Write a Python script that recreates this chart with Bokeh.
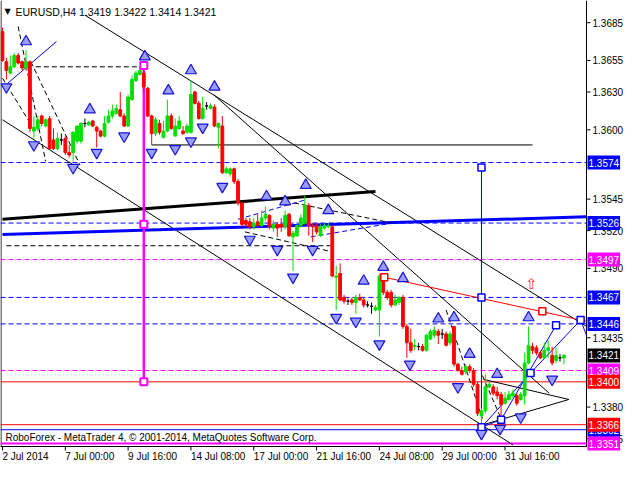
from bokeh.plotting import figure
from bokeh.models import Range1d, Label
from bokeh.core.properties import value
from bokeh.embed import file_html
from bokeh.resources import INLINE

# ---------------- data ----------------
opens = [1.3678,1.3654,1.3645,1.3650,1.3659,1.3654,1.3649,1.3654,1.3599,1.3601,
 1.3611,1.3603,1.3609,1.3592,1.3585,1.3592,1.3593,1.3582,1.3582,1.3591,
 1.3591,1.3605,1.3604,1.3607,1.3602,1.3599,1.3595,1.3606,1.3611,1.3613,
 1.3616,1.3611,1.3603,1.3624,1.3639,1.3644,1.3645,1.3633,1.3611,1.3597,
 1.3605,1.3594,1.3599,1.3611,1.3595,1.3601,1.3599,1.3598,1.3598,1.3630,
 1.3621,1.3609,1.3619,1.3617,1.3618,1.3602,1.3603,1.3566,1.3565,1.3569,
 1.3559,1.3542,1.3528,1.3527,1.3523,1.3527,1.3524,1.3530,1.3532,1.3522,
 1.3525,1.3525,1.3523,1.3533,1.3515,1.3516,1.3524,1.3526,1.3540,1.3524,
 1.3524,1.3516,1.3522,1.3523,1.3523,1.3483,1.3486,1.3467,1.3464,1.3465,
 1.3463,1.3467,1.3465,1.3461,1.3460,1.3457,1.3457,1.3483,1.3471,1.3471,
 1.3461,1.3463,1.3467,1.3444,1.3431,1.3428,1.3428,1.3428,1.3425,1.3434,
 1.3437,1.3440,1.3438,1.3438,1.3431,1.3444,1.3414,1.3409,1.3408,1.3412,
 1.3409,1.3398,1.3373,1.3377,1.3396,1.3396,1.3392,1.3390,1.3383,1.3386,
 1.3389,1.3389,1.3386,1.3389,1.3415,1.3428,1.3427,1.3423,1.3419,1.3425,
 1.3421,1.3417,1.3419,1.3419]
highs = [1.3681,1.3657,1.3659,1.3661,1.3661,1.3655,1.3663,1.3655,1.3611,1.3611,
 1.3612,1.3609,1.3611,1.3601,1.3598,1.3597,1.3595,1.3588,1.3599,1.3603,
 1.3606,1.3609,1.3607,1.3608,1.3603,1.3600,1.3611,1.3616,1.3620,1.3620,
 1.3630,1.3613,1.3628,1.3643,1.3647,1.3650,1.3652,1.3634,1.3612,1.3610,
 1.3608,1.3607,1.3624,1.3613,1.3609,1.3611,1.3603,1.3605,1.3639,1.3631,
 1.3623,1.3626,1.3622,1.3621,1.3620,1.3606,1.3611,1.3571,1.3570,1.3570,
 1.3561,1.3543,1.3530,1.3530,1.3530,1.3533,1.3536,1.3539,1.3533,1.3528,
 1.3527,1.3530,1.3536,1.3534,1.3520,1.3525,1.3533,1.3548,1.3542,1.3526,
 1.3526,1.3525,1.3526,1.3526,1.3524,1.3492,1.3494,1.3469,1.3466,1.3467,
 1.3469,1.3470,1.3467,1.3464,1.3463,1.3461,1.3486,1.3486,1.3473,1.3473,
 1.3469,1.3468,1.3469,1.3446,1.3442,1.3434,1.3431,1.3430,1.3438,1.3442,
 1.3444,1.3442,1.3442,1.3440,1.3440,1.3444,1.3415,1.3412,1.3414,1.3414,
 1.3411,1.3400,1.3379,1.3406,1.3400,1.3398,1.3396,1.3392,1.3392,1.3393,
 1.3394,1.3391,1.3392,1.3423,1.3444,1.3431,1.3429,1.3425,1.3431,1.3433,
 1.3428,1.3427,1.3422,1.3422]
lows = [1.3654,1.3640,1.3644,1.3649,1.3652,1.3647,1.3647,1.3598,1.3593,1.3599,
 1.3603,1.3602,1.3584,1.3584,1.3584,1.3588,1.3580,1.3578,1.3575,1.3589,
 1.3589,1.3602,1.3603,1.3602,1.3586,1.3594,1.3594,1.3605,1.3609,1.3612,
 1.3610,1.3602,1.3602,1.3623,1.3638,1.3643,1.3630,1.3610,1.3588,1.3595,
 1.3596,1.3593,1.3598,1.3600,1.3595,1.3600,1.3596,1.3597,1.3597,1.3620,
 1.3608,1.3608,1.3616,1.3616,1.3602,1.3585,1.3565,1.3565,1.3563,1.3557,
 1.3540,1.3523,1.3523,1.3521,1.3521,1.3522,1.3523,1.3528,1.3521,1.3519,
 1.3515,1.3519,1.3521,1.3515,1.3488,1.3515,1.3523,1.3525,1.3516,1.3511,
 1.3517,1.3515,1.3521,1.3522,1.3483,1.3457,1.3464,1.3462,1.3461,1.3461,
 1.3454,1.3464,1.3459,1.3459,1.3454,1.3456,1.3436,1.3469,1.3465,1.3459,
 1.3460,1.3461,1.3442,1.3419,1.3423,1.3425,1.3425,1.3424,1.3424,1.3433,
 1.3435,1.3430,1.3434,1.3428,1.3429,1.3412,1.3408,1.3405,1.3406,1.3407,
 1.3396,1.3373,1.3366,1.3375,1.3395,1.3389,1.3386,1.3371,1.3382,1.3385,
 1.3387,1.3381,1.3385,1.3382,1.3414,1.3422,1.3421,1.3418,1.3418,1.3419,
 1.3413,1.3415,1.3416,1.3414]
closes = [1.3655,1.3647,1.3650,1.3659,1.3653,1.3649,1.3654,1.3601,1.3602,1.3608,
 1.3605,1.3608,1.3585,1.3585,1.3593,1.3592,1.3582,1.3580,1.3598,1.3603,
 1.3605,1.3605,1.3606,1.3603,1.3599,1.3595,1.3605,1.3611,1.3615,1.3617,
 1.3611,1.3603,1.3626,1.3640,1.3645,1.3647,1.3634,1.3611,1.3597,1.3608,
 1.3598,1.3599,1.3611,1.3601,1.3603,1.3607,1.3597,1.3603,1.3628,1.3621,
 1.3609,1.3617,1.3619,1.3619,1.3603,1.3605,1.3566,1.3569,1.3569,1.3559,
 1.3542,1.3525,1.3525,1.3523,1.3526,1.3524,1.3530,1.3533,1.3523,1.3525,
 1.3522,1.3523,1.3532,1.3516,1.3518,1.3524,1.3530,1.3540,1.3524,1.3523,
 1.3519,1.3523,1.3524,1.3524,1.3484,1.3484,1.3465,1.3464,1.3464,1.3463,
 1.3467,1.3465,1.3461,1.3461,1.3460,1.3459,1.3484,1.3471,1.3467,1.3461,
 1.3465,1.3467,1.3444,1.3431,1.3425,1.3429,1.3428,1.3425,1.3437,1.3440,
 1.3441,1.3437,1.3438,1.3429,1.3438,1.3414,1.3409,1.3406,1.3412,1.3409,
 1.3398,1.3375,1.3377,1.3396,1.3398,1.3391,1.3389,1.3382,1.3387,1.3390,
 1.3391,1.3383,1.3390,1.3415,1.3429,1.3425,1.3423,1.3419,1.3425,1.3427,
 1.3415,1.3421,1.3419,1.3421]

time_ticks = [0, 16, 32, 48, 64, 80, 96, 112, 128]
time_labels = ["2 Jul 2014", "7 Jul 00:00", "9 Jul 16:00", "14 Jul 08:00", "17 Jul 00:00",
               "21 Jul 16:00", "24 Jul 08:00", "29 Jul 00:00", "31 Jul 16:00"]
price_ticks = [1.3685, 1.3655, 1.3630, 1.3600, 1.3545, 1.3520, 1.3490, 1.3435, 1.3380, 1.3355]

level_prices = [1.3574, 1.3526, 1.3497, 1.3467, 1.3446, 1.3409, 1.3400, 1.3362, 1.3366, 1.3351]
level_colors = ["#0000ff", "#0000ff", "#ff00ff", "#0000ff", "#0000ff", "#ff00ff", "#ff0000", "#0000ff", "#ff0000", "#ff00ff"]
level_dashed = [True, True, True, True, True, True, False, False, False, False]
level_widths = [1, 1, 1, 1, 1, 1, 1, 1, 1, 2]
last_price = 1.3421

up_x = [6, 36.25, 22.25, 42.25, 48, 54, 67.25, 72, 77.25, 83, 92, 97, 102, 111, 115, 119, 126, 134]
up_y = [1.3670, 1.3658, 1.3616, 1.3631, 1.3647, 1.3634, 1.3547, 1.3543, 1.3556, 1.3536,
        1.3480, 1.3491, 1.3482, 1.3450, 1.3451, 1.3422, 1.3406, 1.3451]
dn_x = [1, 8, 18, 24, 31, 38, 44, 48, 51, 56, 63, 70, 74, 79, 85, 90, 96, 103.75, 116, 122, 126.75, 132, 140]
dn_y = [1.3634, 1.3588, 1.3570, 1.3582, 1.3595, 1.3582, 1.3585, 1.3591, 1.3602, 1.3555, 1.3513,
        1.3505, 1.3483, 1.3505, 1.3451, 1.3448, 1.3430, 1.3414, 1.3396, 1.3359, 1.3363, 1.3372, 1.3402]

thin_black_xs = [[0, 130], [21, 148.75], [53.75, 139.25], [122.5, 144.25, 122.5], [38, 135]]
thin_black_ys = [[1.3608, 1.3350], [1.3691, 1.3444], [1.3628, 1.3391], [1.3402, 1.3386, 1.3366], [1.3588, 1.3588]]
thick_black_x = [0, 95]
thick_black_y = [1.3529, 1.3551]
thick_blue_x = [0, 148.75]
thick_blue_y = [1.3517, 1.3531]
dash_black_xs = [[4, 11], [7.25, 19.75], [0, 7.5], [8.5, 36.75], [1, 83.5], [61.75, 84.25], [74.25, 99.25],
                 [113, 122.25], [122.25, 127.25]]
dash_black_ys = [[1.3682, 1.3575], [1.3654, 1.3572], [1.3641, 1.3603], [1.3650, 1.3650], [1.3508, 1.3508],
                 [1.3519, 1.3503], [1.3542, 1.3526], [1.3457, 1.3371], [1.3405, 1.3369]]
dash_blue_xs = [[60, 76.75], [78.5, 99.25]]
dash_blue_ys = [[1.3529, 1.3544], [1.3515, 1.3526]]
blue_xs = [[1, 13.75], [122, 134.5], [127, 141], [134.5, 147.25, 148.75], [122, 122], [122, 127]]
blue_ys = [[1.3636, 1.3670], [1.3364, 1.3407], [1.3370, 1.3445], [1.3407, 1.3449, 1.3437], [1.3570, 1.3364], [1.3364, 1.3370]]
red_line_x = [97.25, 148.75]
red_line_y = [1.3483, 1.3448]
mag_line_x = [36, 36]
mag_line_y = [1.3651, 1.3400]

box_blue_x = [122, 122, 122, 127, 134.5, 141, 147.25]
box_blue_y = [1.3570, 1.3467, 1.3364, 1.3370, 1.3407, 1.3445, 1.3449]
box_red_x = [97.25, 137.5]
box_red_y = [1.3483, 1.3456]
box_mag_x = [36, 36, 36]
box_mag_y = [1.3651, 1.3525, 1.3400]
hint_x = [134.75]
hint_y = [1.3478]

# ---------------- geometry (whole canvas is the frame) ----------------
FONT = "Liberation Sans"
W, H = 624, 464          # canvas
CW, CH = 586, 446        # chart area (top-left)
X0, X1 = -0.5, 148.75    # chart x extent (bar index)
Y0, Y1 = 1.33487, 1.37026  # chart y extent (price)
ux = (X1 - X0) / CW      # data per px
uy = (Y1 - Y0) / CH
XR = X0 + W * ux
YB = Y1 - H * uy

p = figure(width=W, height=H, output_backend="svg", toolbar_location=None,
           x_range=Range1d(X0, XR), y_range=Range1d(YB, Y1),
           min_border=0, min_border_left=0, min_border_right=0, min_border_top=0, min_border_bottom=0)
p.axis.visible = False
p.grid.visible = False
p.outline_line_color = None
p.background_fill_color = "white"
p.border_fill_color = "white"

# chart border (left, right, bottom)
p.line([X0 + 0.5 * ux, X0 + 0.5 * ux], [Y0, Y1], line_color="black", line_width=1)
p.line([X1, X1], [Y0, Y1], line_color="black", line_width=1)
p.line([X0, X1], [Y0, Y0], line_color="black", line_width=1)

# time axis ticks + labels
p.segment(time_ticks, [Y0] * len(time_ticks), time_ticks, [Y0 - 4 * uy] * len(time_ticks),
          line_color="black", line_width=1)
for t, lab in zip(time_ticks, time_labels):
    p.add_layout(Label(x=t, y=Y0, y_offset=-4, text=lab,
                       text_font=FONT, text_font_size="10px", text_color="black",
                       text_align="left", text_baseline="top"))

# price axis ticks + labels
p.segment([X1] * len(price_ticks), price_ticks, [X1 + 4 * ux] * len(price_ticks), price_ticks,
          line_color="black", line_width=1)
for pr in price_ticks:
    p.add_layout(Label(x=X1, y=pr, x_offset=6, text="%.4f" % pr,
                       text_font=FONT, text_font_size="10px", text_color="black",
                       text_align="left", text_baseline="middle"))

# horizontal levels
dl = [i for i, d in enumerate(level_dashed) if d]
sl = [i for i, d in enumerate(level_dashed) if not d]
p.segment([X0] * len(dl), [level_prices[i] for i in dl], [X1] * len(dl), [level_prices[i] for i in dl],
          line_color=[level_colors[i] for i in dl], line_width=1, line_dash="5 3")
p.segment([X0] * len(sl), [level_prices[i] for i in sl], [X1] * len(sl), [level_prices[i] for i in sl],
          line_color=[level_colors[i] for i in sl], line_width=[level_widths[i] for i in sl])

# trend lines
p.multi_line(thin_black_xs, thin_black_ys, line_color="black", line_width=1)
p.line(thick_black_x, thick_black_y, line_color="black", line_width=3)
p.line(thick_blue_x, thick_blue_y, line_color="#0000ff", line_width=3)
p.multi_line(dash_black_xs, dash_black_ys, line_color="black", line_width=1, line_dash="5 3")
p.multi_line(dash_blue_xs, dash_blue_ys, line_color="#0000ff", line_width=1, line_dash="5 3")
p.multi_line(blue_xs, blue_ys, line_color="#0000ff", line_width=1)
p.line(red_line_x, red_line_y, line_color="#ff0000", line_width=1)
p.line(mag_line_x, mag_line_y, line_color="#ff00ff", line_width=2.5)

# candles
idx = list(range(len(opens)))
cols = ["#00e000" if c > o else ("#ff0000" if c < o else "black") for o, c in zip(opens, closes)]
p.segment(idx, highs, idx, lows, line_color=cols, line_width=1)
tops = [max(o, c) for o, c in zip(opens, closes)]
bots = [min(o, c) for o, c in zip(opens, closes)]
p.vbar(x=idx, top=tops, bottom=bots, width=0.7, fill_color=cols, line_color=cols, line_width=1)

# boxes
p.scatter(box_blue_x, box_blue_y, marker="square", size=7, fill_color="white", line_color="#0000ff", line_width=1.5)
p.scatter(box_red_x, box_red_y, marker="square", size=7, fill_color="white", line_color="#ff0000", line_width=1.5)
p.scatter(box_mag_x, box_mag_y, marker="square", size=7, fill_color="white", line_color="#ff00ff", line_width=2)

# fractal arrows
p.scatter(up_x, up_y, marker="triangle", size=11, fill_color="#9b9bff", line_color="#1515d0", line_width=1.2)
p.scatter(dn_x, dn_y, marker="inverted_triangle", size=11, fill_color="#9b9bff", line_color="#1515d0", line_width=1.2)
p.text(hint_x, hint_y, text=["\u21e7"], text_color="#ff3030", text_font=value("DejaVu Sans"),
       text_font_size="15px", text_align="center", text_baseline="middle")

# right-side price boxes
for pr, col in zip(level_prices, level_colors):
    p.add_layout(Label(x=X1, y=pr, x_offset=1, text="%.4f" % pr,
                       text_font=FONT, text_font_size="10px", text_color="white",
                       text_baseline="middle", text_align="left",
                       background_fill_color=col, padding=(1, 3)))
p.add_layout(Label(x=X1, y=last_price, x_offset=1, text="%.4f" % last_price,
                   text_font=FONT, text_font_size="10px", text_color="white",
                   text_baseline="middle", text_align="left",
                   background_fill_color="black", padding=(1, 3)))

# title and footer
p.add_layout(Label(x=X0, y=Y1, x_offset=4, y_offset=-11, text="\u25bc",
                   text_font="DejaVu Sans", text_font_size="8px", text_color="black",
                   text_baseline="middle"))
p.add_layout(Label(x=X0, y=Y1, x_offset=15, y_offset=-11,
                   text="EURUSD,H4  1.3419 1.3422 1.3414 1.3421",
                   text_font=FONT, text_font_size="10.5px", text_color="black", text_baseline="middle"))
p.add_layout(Label(x=X0, y=Y0, x_offset=5, y_offset=9,
                   text="RoboForex - MetaTrader 4, \u00a9 2001-2014, MetaQuotes Software Corp.",
                   text_font=FONT, text_font_size="10px", text_color="black", text_baseline="middle"))

open("out.html", "w").write(file_html(p, INLINE))
